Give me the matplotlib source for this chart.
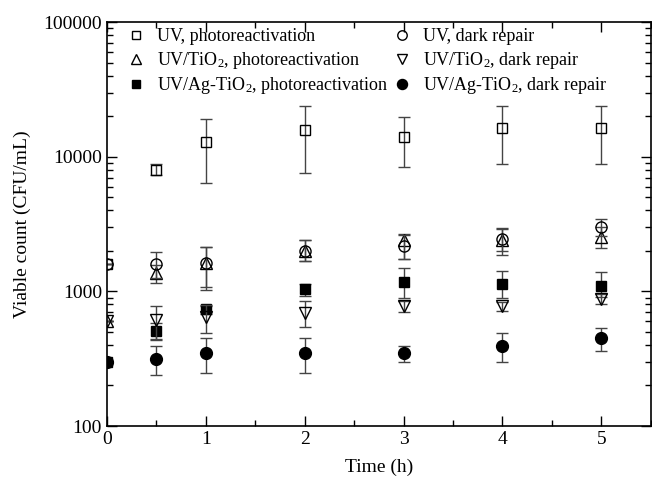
import numpy as np
import matplotlib
matplotlib.use('Agg')
import matplotlib.pyplot as plt
from matplotlib.ticker import FixedLocator, LogLocator, NullFormatter, FixedFormatter, MultipleLocator

plt.rcParams['font.family'] = ['Liberation Serif', 'DejaVu Serif']
plt.rcParams['mathtext.fontset'] = 'custom'
plt.rcParams['mathtext.rm'] = 'Liberation Serif'
plt.rcParams['mathtext.it'] = 'Liberation Serif:italic'

# sampling times (h)
t = [0, 0.5, 1, 2, 3, 4, 5]

# UV, photoreactivation
uv_photo = [1600, 8000, 12800, 15800, 14100, 16400, 16400]
uv_photo_lo = [0, 700, 6400, 8200, 5700, 7600, 7600]
uv_photo_hi = [0, 800, 6200, 8100, 5700, 7500, 7500]

# UV, dark repair
uv_dark = [1600, 1600, 1630, 2000, 2170, 2470, 3020]
uv_dark_lo = [0, 350, 600, 320, 440, 470, 450]
uv_dark_hi = [0, 350, 500, 400, 450, 470, 460]

# UV/TiO2, photoreactivation
tio2_photo = [600, 1360, 1630, 2000, 2400, 2400, 2550]
tio2_photo_lo = [0, 200, 550, 320, 670, 550, 440]
tio2_photo_hi = [0, 200, 500, 400, 250, 500, 440]

# UV/TiO2, dark repair
tio2_dark = [600, 612, 641, 686, 778, 778, 877]
tio2_dark_lo = [0, 170, 150, 145, 70, 60, 77]
tio2_dark_hi = [0, 170, 150, 160, 70, 60, 80]

# UV/Ag-TiO2, photoreactivation
ag_photo = [300, 510, 735, 1035, 1166, 1127, 1095]
ag_photo_lo = [0, 75, 50, 110, 280, 240, 180]
ag_photo_hi = [0, 75, 50, 100, 317, 295, 300]

# UV/Ag-TiO2, dark repair
ag_dark = [300, 314, 347, 347, 347, 395, 448]
ag_dark_lo = [0, 76, 98, 98, 48, 98, 86]
ag_dark_hi = [0, 77, 100, 100, 46, 100, 83]

series = [
    (uv_photo, uv_photo_lo, uv_photo_hi, 's', 'none', 7, 'UV, photoreactivation'),
    (tio2_photo, tio2_photo_lo, tio2_photo_hi, '^', 'none', 8.5, 'UV/TiO$_2$, photoreactivation'),
    (ag_photo, ag_photo_lo, ag_photo_hi, 's', 'k', 7, 'UV/Ag-TiO$_2$, photoreactivation'),
    (uv_dark, uv_dark_lo, uv_dark_hi, 'o', 'none', 8, 'UV, dark repair'),
    (tio2_dark, tio2_dark_lo, tio2_dark_hi, 'v', 'none', 8.5, 'UV/TiO$_2$, dark repair'),
    (ag_dark, ag_dark_lo, ag_dark_hi, 'o', 'k', 8.5, 'UV/Ag-TiO$_2$, dark repair'),
]

fig = plt.figure(figsize=(6.52, 4.83), dpi=100)
ax = fig.add_axes([0.164, 0.118, 0.834, 0.836])

for y, lo, hi, m, fc, ms, lab in series:
    ax.errorbar(t, y, yerr=[lo, hi], fmt='none', ecolor='#444444',
                elinewidth=1.0, capsize=4, capthick=1.0)
    ax.plot(t, y, ls='none', marker=m, mfc=fc, mec='k', mew=1.0, ms=ms, label=lab)

ax.set_yscale('log')
ax.set_xlim(0, 5.5)
ax.set_ylim(100, 100000)
ax.xaxis.set_major_locator(MultipleLocator(1))
ax.xaxis.set_minor_locator(MultipleLocator(0.5))
ax.yaxis.set_major_locator(FixedLocator([100, 1000, 10000, 100000]))
ax.yaxis.set_major_formatter(FixedFormatter(['100', '1000', '10000', '100000']))
ax.yaxis.set_minor_locator(LogLocator(base=10, subs=np.arange(2, 10)))
ax.yaxis.set_minor_formatter(NullFormatter())
ax.tick_params(which='both', direction='in', top=True, right=True, labelsize=14)
ax.tick_params(which='major', length=7, width=1)
ax.tick_params(which='minor', length=4, width=1)
for s in ax.spines.values():
    s.set_linewidth(1.2)

ax.set_xlabel('Time (h)', fontsize=14, labelpad=8)
ax.set_ylabel('Viable count (CFU/mL)', fontsize=14, labelpad=9)

ax.legend(ncol=2, loc='upper left', frameon=False, fontsize=13,
          bbox_to_anchor=(0.0, 1.025), handlelength=1.4, handletextpad=0.5,
          columnspacing=0.0, labelspacing=0.25, markerscale=0.85)

fig.savefig('out.png', dpi=100)
